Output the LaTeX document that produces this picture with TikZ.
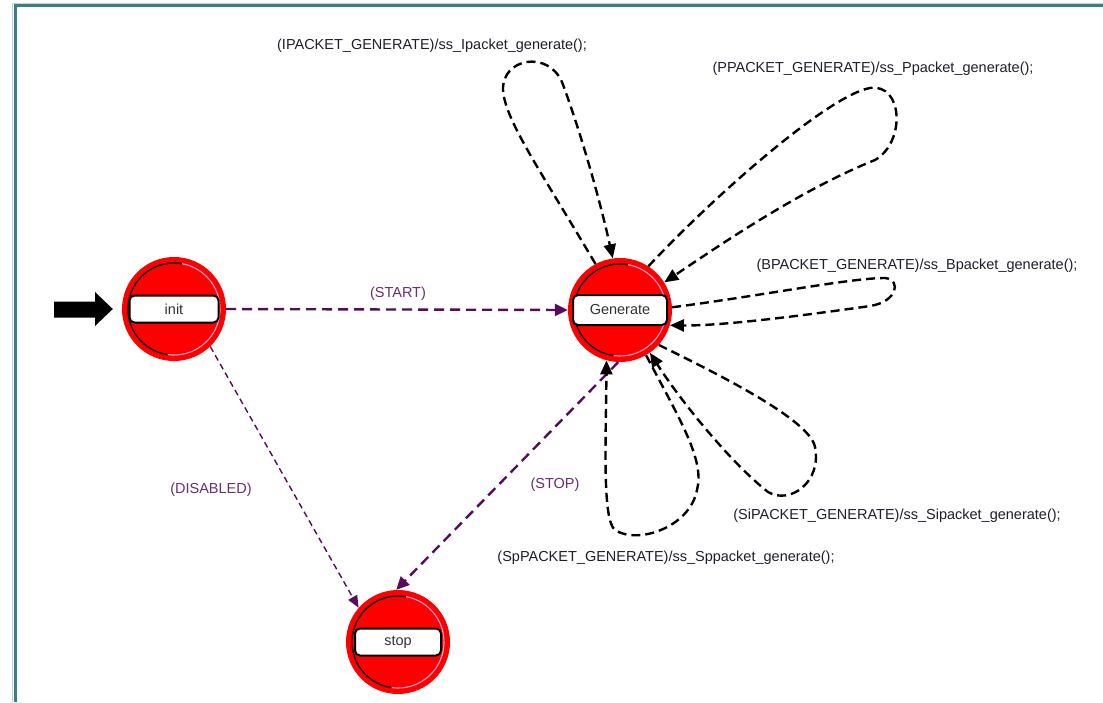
\documentclass[tikz,border=0pt]{standalone}
\usepackage{fontspec}
\setmainfont{Liberation Sans}
\usetikzlibrary{arrows.meta}
\definecolor{frameteal}{RGB}{61,125,135}
\definecolor{framelight}{RGB}{200,210,212}
\definecolor{transpurple}{RGB}{88,10,92}
\definecolor{lblpurple}{RGB}{105,45,115}
\definecolor{lbldark}{RGB}{30,30,45}
\definecolor{ringpink}{RGB}{255,160,210}
\tikzset{
  statedisc/.style={circle, fill=red, minimum size=104pt, inner sep=0pt},
  statelbl/.style={draw=black, fill=white, line width=2pt, rounded corners=5pt,
    minimum height=27pt, inner sep=0pt, text=black!80, font=\fontsize{14.5}{16}\selectfont},
  looparc/.style={draw=black, line width=2.4pt, dash pattern=on 9pt off 5pt,
    -{Triangle[length=14pt,width=12pt]}},
  purplearc/.style={draw=transpurple, line width=2.4pt, dash pattern=on 10pt off 6pt,
    -{Triangle[length=13pt,width=12pt]}},
  thinarc/.style={draw=transpurple, line width=1.4pt, dash pattern=on 6pt off 4pt,
    -{Triangle[length=12pt,width=10pt]}},
  looplbl/.style={text=lbldark, font=\fontsize{14.5}{16}\selectfont, inner sep=0pt},
  eventlbl/.style={text=lblpurple, font=\fontsize{14.5}{16}\selectfont, inner sep=0pt},
}
\newcommand{\statering}[1]{%
  \draw[black, line width=1.3pt] (#1.center) ++(80:46pt) arc[start angle=80, end angle=262, radius=46pt];
  \draw[ringpink, line width=1.1pt] (#1.center) ++(262:46pt) arc[start angle=262, end angle=440, radius=46pt];
}
\begin{document}
\begin{tikzpicture}[x=1pt, y=-1pt]
  \useasboundingbox (0,0) rectangle (1103,702);
  \fill[white] (0,0) rectangle (1103,702);

  % window frame
  \draw[framelight, line width=1pt] (12.5,702) -- (12.5,3) -- (1103,3);
  \draw[frameteal, line width=3pt] (15,702) -- (15,5.5) -- (1103,5.5);

  % states
  \node[statedisc] (init) at (174,309) {};
  \node[statedisc] (gen)  at (620,310) {};
  \node[statedisc] (stop) at (398,642) {};
  \statering{init}
  \statering{gen}
  \statering{stop}
  \node[statelbl, minimum width=89pt] (initlbl) at (init.center) {init};
  \node[statelbl, minimum width=94pt, minimum height=30pt] (genlbl) at (gen.center) {Generate};
  \node[statelbl, minimum width=86pt] (stoplbl) at (stop.center) {stop};

  % initial-state marker
  \coordinate (entry) at (init.west);
  \fill[black] (54,301.5) -- (95,301.5) -- (95,292) -- ([xshift=-9pt]entry) -- (95,326) -- (95,317.5) -- (54,317.5) -- cycle;

  % transitions between states
  \draw[purplearc] (init.east) -- (gen.west);
  \node[eventlbl] (startlbl) at (398,294) {(START)};
  \draw[thinarc] (init.-46) -- (stop.139);
  \node[eventlbl] (dislbl) at (211,490) {(DISABLED)};
  \draw[purplearc] (gen.-92) -- (stop.92);
  \node[eventlbl] (stoplbltxt) at (555,485) {(STOP)};

  % self loops on Generate
  \draw[looparc] (gen.118) .. controls (540,170) and (505,120) .. (503,90)
        .. controls (502,58) and (548,50) .. (562,82)
        .. controls (580,130) and (600,200) .. (gen.98);
  \node[looplbl] (ilbl) at (432,46) {(IPACKET\_GENERATE)/ss\_Ipacket\_generate();};

  \draw[looparc] (gen.57) .. controls (720,190) and (830,95) .. (870,88)
        .. controls (903,83) and (906,142) .. (875,160)
        .. controls (800,190) and (720,245) .. (gen.32);
  \node[looplbl] (plbl) at (873,69) {(PPACKET\_GENERATE)/ss\_Ppacket\_generate();};

  \draw[looparc] (gen.3) .. controls (760,296) and (850,278) .. (885,278)
        .. controls (902,280) and (897,302) .. (870,306)
        .. controls (800,316) and (720,326) .. (gen.-17);
  \node[looplbl] (blbl) at (917,266) {(BPACKET\_GENERATE)/ss\_Bpacket\_generate();};

  \draw[looparc] (gen.-42) .. controls (720,375) and (810,420) .. (815,447)
        .. controls (822,482) and (790,505) .. (768,492)
        .. controls (730,462) and (680,400) .. (gen.-55);
  \node[looplbl] (silbl) at (897,516) {(SiPACKET\_GENERATE)/ss\_Sipacket\_generate();};

  \draw[looparc] (gen.-60) .. controls (680,420) and (705,460) .. (697,490)
        .. controls (690,527) and (638,545) .. (615,530)
        .. controls (602,520) and (606,440) .. (gen.-105);
  \node[looplbl] (splbl) at (666,558) {(SpPACKET\_GENERATE)/ss\_Sppacket\_generate();};
\end{tikzpicture}
\end{document}
